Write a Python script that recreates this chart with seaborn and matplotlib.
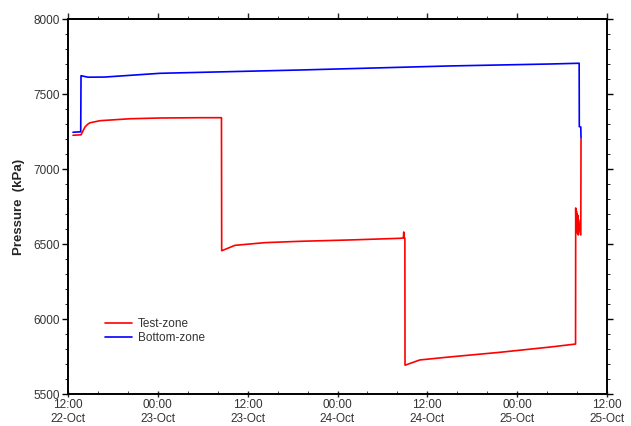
import matplotlib
matplotlib.use("Agg")
import matplotlib.pyplot as plt
import matplotlib.dates as mdates
import matplotlib.ticker as mticker
import numpy as np
import pandas as pd
import seaborn as sns

# ---- data (hours after 22-Oct 12:00, pressure in kPa) ----
test_hours = [0.67, 1.74, 2.27, 2.67, 2.94, 4.27, 8.28, 12.29, 17.6, 20.50,
              20.53, 22.3, 26.3, 31.0, 37.7, 44.35, 44.80, 44.85, 44.90, 45.00,
              45.02, 47.0, 51.0, 57.7, 64.4, 67.80,
              67.82, 67.87, 67.92, 67.97, 68.02, 68.07, 68.12, 68.17, 68.22, 68.50,
              68.53]
test_kpa = [7225, 7228, 7280, 7300, 7308, 7322, 7335, 7340, 7342, 7342,
            6455, 6491, 6509, 6518, 6527, 6538, 6540, 6580, 6540, 6540,
            5692, 5727, 5747, 5778, 5813, 5833,
            6740, 6580, 6720, 6590, 6700, 6570, 6690, 6560, 6660, 6560,
            7200]

bottom_hours = [0.67, 1.70, 1.74, 2.67, 4.9, 12.3, 31.0, 51.0, 64.4, 68.28,
                68.30, 68.50, 68.53]
bottom_kpa = [7245, 7248, 7622, 7612, 7613, 7638, 7660, 7687, 7700, 7705,
              7282, 7280, 7207]

zones = ["Test-zone", "Bottom-zone"]
colors = ["#ff0000", "#0000ff"]
x_tick_fmt = "%H:%M\n%d-%b"
y_ticks = [5500, 6000, 6500, 7000, 7500, 8000]

start = pd.Timestamp("2008-10-22 12:00")
end = pd.Timestamp("2008-10-25 12:00")

df = pd.concat([
    pd.DataFrame({"time": start + pd.to_timedelta(test_hours, unit="h"),
                  "pressure": test_kpa, "zone": zones[0]}),
    pd.DataFrame({"time": start + pd.to_timedelta(bottom_hours, unit="h"),
                  "pressure": bottom_kpa, "zone": zones[1]}),
], ignore_index=True)

sns.set_style("ticks")
plt.rcParams["font.family"] = ["Liberation Sans", "DejaVu Sans"]

fig = plt.figure(figsize=(6.31, 4.26), dpi=100)
ax = fig.add_axes([68 / 631, 1 - 394 / 426, (607 - 68) / 631, (394 - 19) / 426])

sns.lineplot(data=df, x="time", y="pressure", hue="zone", hue_order=zones,
             palette=dict(zip(zones, colors)), estimator=None, sort=False,
             linewidth=1.2, ax=ax)

ax.set_xlim(start, end)
ax.set_ylim(5500, 8000)
ax.set_yticks(y_ticks)
ax.yaxis.set_minor_locator(mticker.MultipleLocator(100))
ax.xaxis.set_major_locator(mdates.HourLocator(byhour=[0, 12]))
ax.xaxis.set_minor_locator(mdates.HourLocator(byhour=range(0, 24, 4)))
ax.xaxis.set_major_formatter(mdates.DateFormatter(x_tick_fmt))

for s in ax.spines.values():
    s.set_visible(True)
    s.set_linewidth(1.4)
    s.set_color("black")

ax.tick_params(axis="y", which="both", direction="out", left=True, right=True,
               labelleft=True, labelright=False, colors="black",
               labelcolor="#333333", labelsize=8.5, pad=2)
ax.tick_params(axis="y", which="major", length=4, width=1.0)
ax.tick_params(axis="y", which="minor", length=2.2, width=0.6)
ax.tick_params(axis="x", which="major", direction="inout", length=5, width=1.0,
               labelsize=8.5, labelcolor="#333333", pad=1)
ax.tick_params(axis="x", which="minor", direction="in", length=2.2, width=0.6)

top = ax.secondary_xaxis("top")
top.xaxis.set_major_locator(mdates.HourLocator(byhour=[0, 12]))
top.xaxis.set_minor_locator(mdates.HourLocator(byhour=range(0, 24, 4)))
top.tick_params(axis="x", which="major", direction="out", length=4, width=1.0,
                labeltop=False)
top.tick_params(axis="x", which="minor", direction="out", length=2.2, width=0.6)
top.spines["top"].set_linewidth(1.4)

ax.set_xlabel("")
ax.set_ylabel("Pressure  (kPa)", fontsize=9.5, fontweight="bold", labelpad=6)

leg = ax.legend(loc="upper left", bbox_to_anchor=(0.06, 0.215), frameon=False,
                fontsize=8.5, handlelength=2.3, handletextpad=0.5,
                labelspacing=0.2, borderaxespad=0)
for t in leg.get_texts():
    t.set_color("#333333")

fig.savefig("out.png", dpi=100)
